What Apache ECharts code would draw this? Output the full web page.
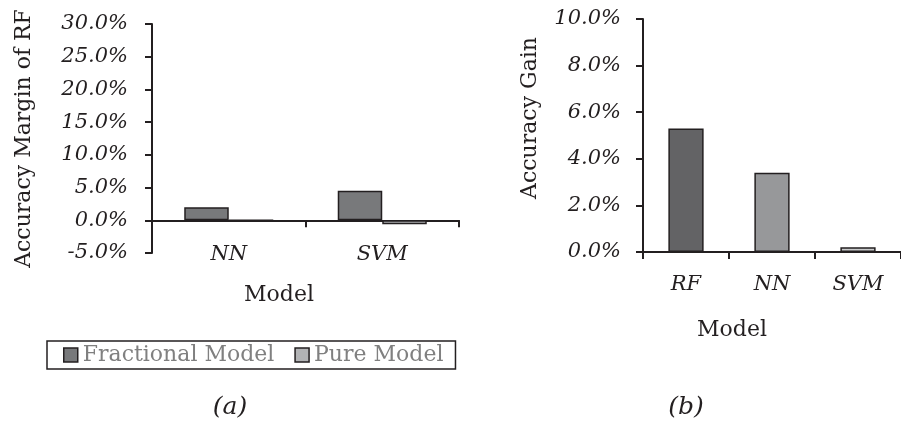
<!DOCTYPE html>
<html>
<head>
<meta charset="utf-8">
<script src="https://cdn.jsdelivr.net/npm/echarts@6/dist/echarts.min.js"></script>
<style>
  html, body { margin: 0; padding: 0; background: #fff; }
  #chart { width: 901px; height: 423px; }
</style>
</head>
<body>
<div id="chart"></div>
<script>
// (a) accuracy margin of RF over the other models
const marginModels = ['NN', 'SVM'];
const fractionalMargin = [2.0, 4.5];
const pureMargin = [0.0, -0.6];

// (b) accuracy gain per model
const gainModels = ['RF', 'NN', 'SVM'];
const gainValues = [5.3, 3.4, 0.2];
const gainColors = ['#636365', '#97989a', '#cbcccd'];

const ink = '#231f20';
const serif = 'DejaVu Serif';

const pct = v => v.toFixed(1) + '%';

const chart = echarts.init(document.getElementById('chart'), null, { renderer: 'canvas' });

const yAxisCommon = {
  type: 'value',
  splitLine: { show: false },
  axisLine: { show: true, lineStyle: { color: ink, width: 2 } },
  axisTick: { show: true, length: 7, lineStyle: { color: ink, width: 2 } },
  axisLabel: { formatter: pct, color: ink, fontFamily: serif, fontStyle: 'italic', fontSize: 21 },
  nameLocation: 'middle',
  nameRotate: 90,
  nameTextStyle: { color: ink, fontFamily: serif, fontSize: 22 }
};

const xAxisCommon = {
  type: 'category',
  axisLine: { show: true, lineStyle: { color: ink, width: 2 } },
  axisTick: { show: true, length: 7, lineStyle: { color: ink, width: 2 } },
  axisLabel: { color: ink, fontFamily: serif, fontStyle: 'italic', fontSize: 21 }
};

const barBorder = { borderColor: ink, borderWidth: 1.5 };

chart.setOption({
  animation: false,
  backgroundColor: '#ffffff',
  grid: [
    { left: 152, top: 24, width: 307, height: 229 },
    { left: 643, top: 19, width: 270, height: 233 }
  ],
  legend: {
    left: 47,
    top: 341,
    padding: [3, 12, 3, 16],
    itemGap: 20,
    itemWidth: 14,
    itemHeight: 14,
    icon: 'rect',
    borderColor: ink,
    borderWidth: 1.5,
    data: ['Fractional Model', 'Pure Model'],
    itemStyle: { borderColor: ink, borderWidth: 1.5 },
    textStyle: { color: '#808080', fontFamily: serif, fontSize: 22 }
  },
  xAxis: [
    Object.assign({}, xAxisCommon, {
      gridIndex: 0,
      data: marginModels,
      axisLabel: Object.assign({}, xAxisCommon.axisLabel, { margin: -9 })
    }),
    Object.assign({}, xAxisCommon, {
      gridIndex: 1,
      data: gainModels,
      axisLabel: Object.assign({}, xAxisCommon.axisLabel, { margin: 22 })
    })
  ],
  yAxis: [
    Object.assign({}, yAxisCommon, {
      gridIndex: 0,
      min: -5, max: 30, interval: 5,
      name: 'Accuracy Margin of RF',
      nameGap: 117,
      axisLabel: Object.assign({}, yAxisCommon.axisLabel, { margin: 24 })
    }),
    Object.assign({}, yAxisCommon, {
      gridIndex: 1,
      min: 0, max: 10, interval: 2,
      axisLabel: Object.assign({}, yAxisCommon.axisLabel, { margin: 22 })
    })
  ],
  series: [
    {
      name: 'Fractional Model',
      type: 'bar',
      xAxisIndex: 0, yAxisIndex: 0,
      barWidth: '29%',
      barGap: '0%',
      itemStyle: Object.assign({ color: '#78797b' }, barBorder),
      data: fractionalMargin
    },
    {
      name: 'Pure Model',
      type: 'bar',
      xAxisIndex: 0, yAxisIndex: 0,
      barWidth: '29%',
      barGap: '0%',
      itemStyle: Object.assign({ color: '#b2b3b5' }, barBorder),
      data: pureMargin
    },
    {
      name: 'Accuracy Gain',
      type: 'bar',
      xAxisIndex: 1, yAxisIndex: 1,
      barWidth: '41%',
      itemStyle: barBorder,
      data: gainValues.map((v, i) => ({ value: v, itemStyle: { color: gainColors[i] } }))
    }
  ],
  graphic: [
    { type: 'text', x: 530, y: 118, rotation: Math.PI / 2, style: { text: 'Accuracy Gain', fill: ink, font: '22px "DejaVu Serif"', align: 'center', verticalAlign: 'middle' } },
    { type: 'text', x: 279, y: 295, style: { text: 'Model', fill: ink, font: '22px "DejaVu Serif"', align: 'center', verticalAlign: 'middle' } },
    { type: 'text', x: 732, y: 330, style: { text: 'Model', fill: ink, font: '22px "DejaVu Serif"', align: 'center', verticalAlign: 'middle' } },
    { type: 'text', x: 230, y: 407, style: { text: '(a)', fill: ink, font: 'italic 25px "DejaVu Serif"', align: 'center', verticalAlign: 'middle' } },
    { type: 'text', x: 686, y: 407, style: { text: '(b)', fill: ink, font: 'italic 25px "DejaVu Serif"', align: 'center', verticalAlign: 'middle' } }
  ]
});
</script>
</body>
</html>
